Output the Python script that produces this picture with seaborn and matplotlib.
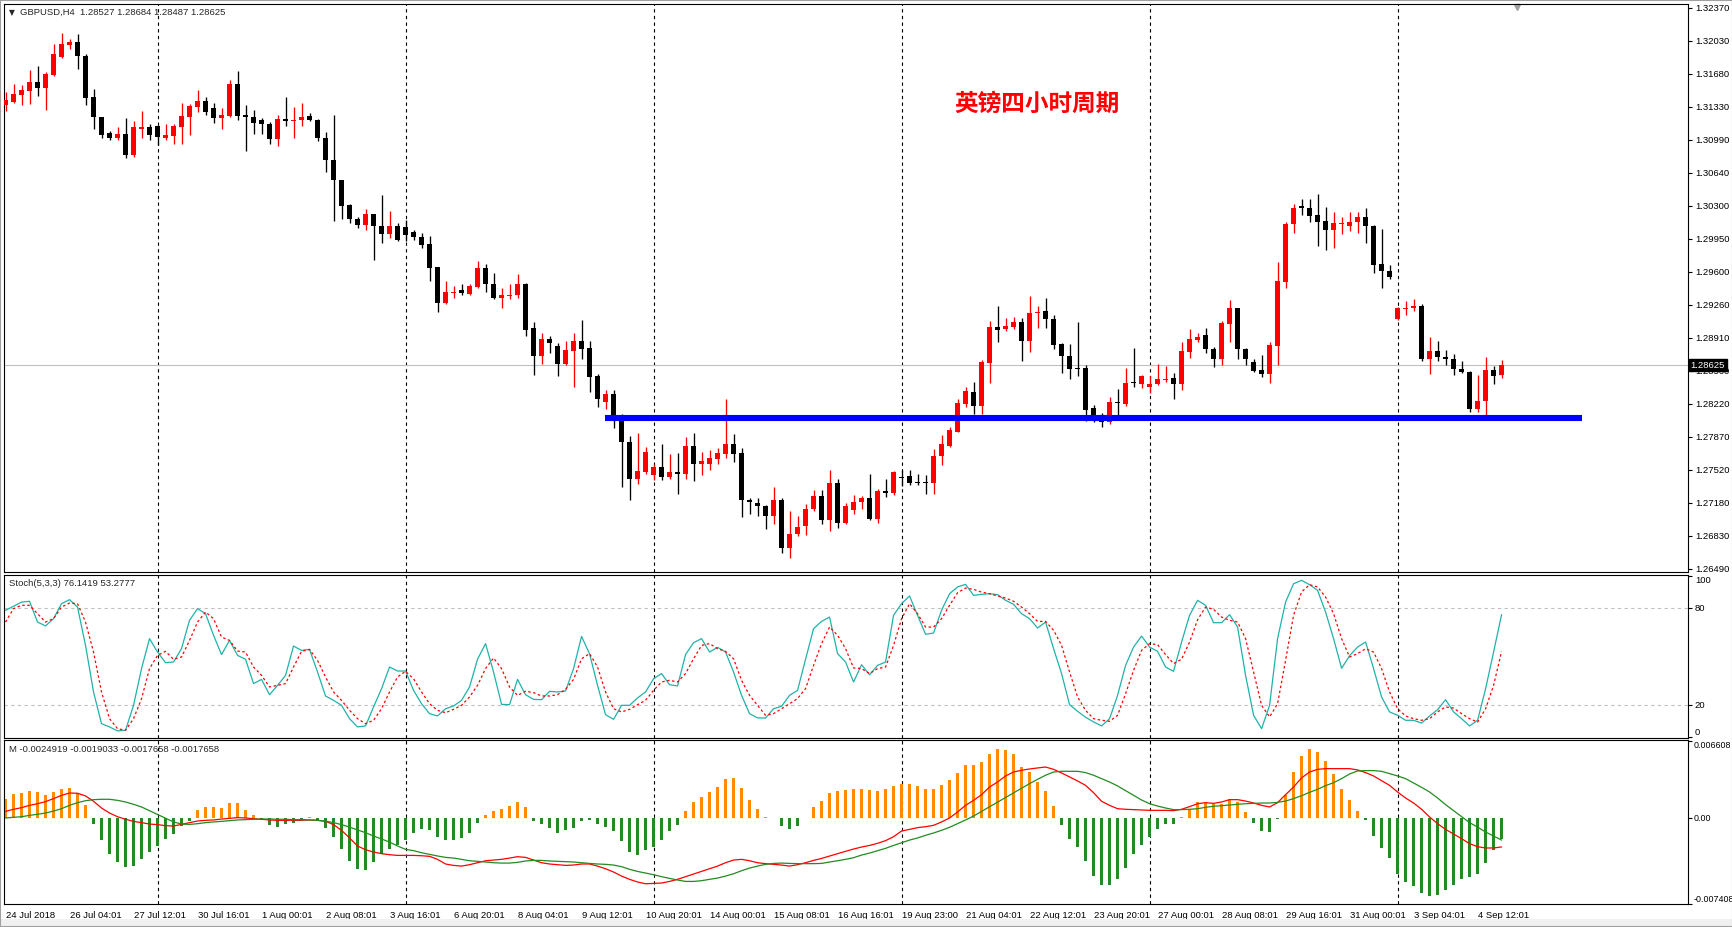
import numpy as np
import matplotlib
matplotlib.use("Agg")
import matplotlib.pyplot as plt
import matplotlib.transforms as mtransforms
from matplotlib.patches import Rectangle
import seaborn as sns

# ---- GBPUSD H4 candles ----
open_ = [1.3135, 1.3138, 1.3146, 1.3150, 1.3159, 1.3153, 1.3167, 1.3185, 1.3198, 1.3201,
         1.3186, 1.3143, 1.3123, 1.3106, 1.3101, 1.3105, 1.3083, 1.3110, 1.3112, 1.3113,
         1.3100, 1.3103, 1.3112, 1.3123, 1.3133, 1.3139, 1.3132, 1.3121, 1.3124, 1.3157,
         1.3125, 1.3123, 1.3119, 1.3115, 1.3099, 1.3120, 1.3118, 1.3119, 1.3124, 1.3119,
         1.3101, 1.3077, 1.3057, 1.3030, 1.3016, 1.3009, 1.3021, 1.3008, 1.3000, 1.3008,
         1.3007, 1.3002, 1.2997, 1.2989, 1.2965, 1.2928, 1.2938, 1.2941, 1.2937, 1.2944,
         1.2964, 1.2948, 1.2933, 1.2935, 1.2936, 1.2948, 1.2901, 1.2872, 1.2890, 1.2883,
         1.2864, 1.2877, 1.2888, 1.2881, 1.2851, 1.2824, 1.2832, 1.2809, 1.2782, 1.2743,
         1.2751, 1.2747, 1.2756, 1.2745, 1.2751, 1.2748, 1.2778, 1.2759, 1.2759, 1.2764,
         1.2769, 1.2780, 1.2770, 1.2721, 1.2718, 1.2715, 1.2704, 1.2721, 1.2671, 1.2686,
         1.2694, 1.2712, 1.2725, 1.2700, 1.2739, 1.2697, 1.2711, 1.2719, 1.2723, 1.2701,
         1.2731, 1.2729, 1.2745, 1.2746, 1.2740, 1.2740, 1.2739, 1.2767, 1.2778, 1.2793,
         1.2822, 1.2834, 1.2820, 1.2865, 1.2903, 1.2900, 1.2903, 1.2908, 1.2888, 1.2917,
         1.2919, 1.2911, 1.2885, 1.2872, 1.2860, 1.2860, 1.2818, 1.2809, 1.2803, 1.2824,
         1.2822, 1.2845, 1.2843, 1.2840, 1.2843, 1.2847, 1.2849, 1.2843, 1.2876, 1.2889,
         1.2894, 1.2879, 1.2869, 1.2906, 1.2922, 1.2879, 1.2866, 1.2857, 1.2853, 1.2883,
         1.2950, 1.3010, 1.3029, 1.3027, 1.3020, 1.3014, 1.3004, 1.3010, 1.3008, 1.3012,
         1.3018, 1.3008, 1.2968, 1.2961, 1.2911, 1.2921, 1.2922, 1.2925, 1.2869, 1.2877,
         1.2871, 1.2869, 1.2859, 1.2855, 1.2817, 1.2825, 1.2857, 1.28527]
high = [1.3149, 1.3157, 1.3156, 1.3172, 1.3176, 1.3170, 1.3199, 1.3211, 1.3204, 1.3209,
        1.3189, 1.3152, 1.3123, 1.3108, 1.3112, 1.3121, 1.3118, 1.3129, 1.3115, 1.3114,
        1.3115, 1.3115, 1.3137, 1.3136, 1.3151, 1.3143, 1.3137, 1.3132, 1.3161, 1.3171,
        1.3135, 1.3130, 1.3121, 1.3117, 1.3125, 1.3143, 1.3133, 1.3137, 1.3127, 1.3120,
        1.3107, 1.3125, 1.3057, 1.3031, 1.3018, 1.3026, 1.3021, 1.3041, 1.3024, 1.3011,
        1.3015, 1.3004, 1.3001, 1.2998, 1.2965, 1.2951, 1.2945, 1.2948, 1.2948, 1.2972,
        1.2969, 1.2959, 1.2943, 1.2948, 1.2958, 1.2949, 1.2908, 1.2896, 1.2893, 1.2886,
        1.2888, 1.2896, 1.2910, 1.2888, 1.2853, 1.2836, 1.2836, 1.2811, 1.2788, 1.2791,
        1.2777, 1.2759, 1.2780, 1.2769, 1.2771, 1.2787, 1.2791, 1.2772, 1.2774, 1.2776,
        1.2827, 1.2790, 1.2776, 1.2723, 1.2723, 1.2716, 1.2735, 1.2723, 1.2710, 1.2704,
        1.2717, 1.2732, 1.2732, 1.2753, 1.2743, 1.2718, 1.2726, 1.2725, 1.2748, 1.2733,
        1.2743, 1.2752, 1.2753, 1.2753, 1.2749, 1.2747, 1.2775, 1.2789, 1.2798, 1.2827,
        1.2840, 1.2845, 1.2868, 1.2909, 1.2924, 1.2912, 1.2913, 1.2912, 1.2935, 1.2925,
        1.2933, 1.2915, 1.2886, 1.2885, 1.2908, 1.2863, 1.2821, 1.2812, 1.2829, 1.2838,
        1.2860, 1.2880, 1.2852, 1.2851, 1.2864, 1.2862, 1.2854, 1.2887, 1.2900, 1.2896,
        1.2901, 1.2882, 1.2909, 1.2931, 1.2922, 1.2881, 1.2869, 1.2873, 1.2887, 1.2971,
        1.3013, 1.3031, 1.3037, 1.3037, 1.3042, 1.3028, 1.3023, 1.3018, 1.3023, 1.3023,
        1.3027, 1.3009, 1.3005, 1.2967, 1.2923, 1.2930, 1.2932, 1.2927, 1.2892, 1.2888,
        1.2878, 1.2874, 1.2867, 1.2856, 1.2852, 1.2871, 1.2862, 1.28684]
low = [1.3129, 1.3137, 1.3135, 1.3136, 1.3145, 1.3130, 1.3165, 1.3184, 1.3194, 1.3173,
       1.3135, 1.3110, 1.3100, 1.3098, 1.3098, 1.3080, 1.3081, 1.3100, 1.3098, 1.3093,
       1.3098, 1.3094, 1.3094, 1.3104, 1.3128, 1.3125, 1.3116, 1.3110, 1.3122, 1.3119,
       1.3087, 1.3105, 1.3105, 1.3094, 1.3092, 1.3113, 1.3101, 1.3113, 1.3118, 1.3097,
       1.3065, 1.3014, 1.3016, 1.3011, 1.3006, 1.3004, 1.2973, 1.2990, 1.2996, 1.2993,
       1.2993, 1.2994, 1.2985, 1.2951, 1.2918, 1.2927, 1.2933, 1.2936, 1.2936, 1.2943,
       1.2939, 1.2932, 1.2922, 1.2932, 1.2933, 1.2893, 1.2852, 1.2864, 1.2875, 1.2851,
       1.2863, 1.2840, 1.2869, 1.2834, 1.2819, 1.2817, 1.2797, 1.2735, 1.2721, 1.2738,
       1.2748, 1.2742, 1.2742, 1.2743, 1.2728, 1.2743, 1.2741, 1.2747, 1.2753, 1.2759,
       1.2765, 1.2761, 1.2703, 1.2707, 1.2704, 1.2691, 1.2696, 1.2666, 1.2660, 1.2684,
       1.2685, 1.2710, 1.2696, 1.2689, 1.2692, 1.2696, 1.2707, 1.2712, 1.2700, 1.2697,
       1.2724, 1.2726, 1.2736, 1.2737, 1.2737, 1.2728, 1.2728, 1.2758, 1.2777, 1.2792,
       1.2819, 1.2811, 1.2811, 1.2844, 1.2887, 1.2898, 1.2900, 1.2867, 1.2876, 1.2901,
       1.2901, 1.2879, 1.2854, 1.2848, 1.2851, 1.2804, 1.2803, 1.2798, 1.2801, 1.2806,
       1.2820, 1.2840, 1.2839, 1.2833, 1.2842, 1.2845, 1.2827, 1.2836, 1.2870, 1.2887,
       1.2875, 1.2861, 1.2863, 1.2887, 1.2869, 1.2863, 1.2855, 1.2850, 1.2844, 1.2863,
       1.2943, 1.3001, 1.3020, 1.3012, 1.2987, 1.2983, 1.2985, 1.3000, 1.3003, 1.3001,
       1.2991, 1.2959, 1.2943, 1.2953, 1.2910, 1.2915, 1.2919, 1.2867, 1.2853, 1.2867,
       1.2863, 1.2852, 1.2854, 1.2813, 1.2813, 1.2809, 1.2843, 1.28487]
close = [1.3140, 1.3147, 1.3151, 1.3159, 1.3153, 1.3168, 1.3188, 1.3199, 1.3201, 1.3186,
         1.3142, 1.3122, 1.3104, 1.3101, 1.3105, 1.3083, 1.3112, 1.3112, 1.3104, 1.3102,
         1.3104, 1.3113, 1.3124, 1.3134, 1.3139, 1.3128, 1.3121, 1.3125, 1.3157, 1.3124,
         1.3122, 1.3116, 1.3115, 1.3099, 1.3120, 1.3118, 1.3119, 1.3123, 1.3119, 1.3101,
         1.3077, 1.3056, 1.3029, 1.3016, 1.3009, 1.3021, 1.3008, 1.3000, 1.3008, 1.2994,
         1.2999, 1.2997, 1.2988, 1.2964, 1.2928, 1.2939, 1.2939, 1.2938, 1.2945, 1.2964,
         1.2948, 1.2933, 1.2936, 1.2936, 1.2948, 1.2899, 1.2872, 1.2890, 1.2886, 1.2864,
         1.2878, 1.2888, 1.2879, 1.2850, 1.2827, 1.2832, 1.2808, 1.2782, 1.2743, 1.2752,
         1.2772, 1.2756, 1.2745, 1.2751, 1.2748, 1.2778, 1.2759, 1.2762, 1.2765, 1.2770,
         1.2780, 1.2769, 1.2721, 1.2719, 1.2715, 1.2704, 1.2721, 1.2671, 1.2686, 1.2693,
         1.2712, 1.2725, 1.2700, 1.2739, 1.2697, 1.2715, 1.2719, 1.2723, 1.2701, 1.2731,
         1.2729, 1.2751, 1.2744, 1.2739, 1.2739, 1.2739, 1.2767, 1.2780, 1.2795, 1.2823,
         1.2835, 1.2820, 1.2866, 1.2903, 1.2899, 1.2904, 1.2908, 1.2888, 1.2917, 1.2918,
         1.2911, 1.2884, 1.2872, 1.2859, 1.2859, 1.2816, 1.2808, 1.2803, 1.2824, 1.2823,
         1.2844, 1.2844, 1.2851, 1.2843, 1.2848, 1.2848, 1.2843, 1.2877, 1.2890, 1.2892,
         1.2879, 1.2869, 1.2907, 1.2922, 1.2879, 1.2869, 1.2856, 1.2853, 1.2884, 1.2951,
         1.3010, 1.3027, 1.3027, 1.3019, 1.3013, 1.3004, 1.3011, 1.3011, 1.3013, 1.3018,
         1.3008, 1.2967, 1.2961, 1.2955, 1.2922, 1.2922, 1.2925, 1.2869, 1.2877, 1.2871,
         1.2869, 1.2858, 1.2855, 1.2817, 1.2825, 1.2857, 1.2851, 1.28625]

# ---- Stoch(5,3,3) ----
stoch_main = [78.8, 81.3, 83.9, 84.4, 71.5, 69.1, 73.6, 82.9, 85.4, 80.8,
              57.0, 28.1, 8.4, 6.4, 3.9, 4.3, 19.8, 42.6, 61.2, 52.9,
              46.3, 46.7, 55.0, 72.6, 79.8, 76.7, 63.3, 51.3, 60.1, 50.8,
              48.4, 33.3, 35.9, 26.4, 32.2, 38.4, 56.6, 53.9, 54.5, 40.5,
              25.6, 22.9, 19.8, 11.5, 6.4, 7.0, 18.8, 30.1, 43.6, 41.1,
              41.1, 29.1, 20.8, 14.6, 13.2, 17.7, 19.4, 22.9, 31.2, 48.4,
              58.1, 40.5, 20.4, 20.2, 35.9, 26.4, 23.5, 23.3, 28.5, 28.1,
              28.7, 42.6, 62.6, 51.8, 32.2, 14.0, 11.1, 19.8, 19.8, 24.4,
              28.1, 36.3, 39.5, 32.6, 31.8, 51.3, 58.7, 61.2, 52.9, 55.8,
              52.9, 40.5, 26.0, 14.6, 12.0, 11.9, 17.7, 19.2, 26.0, 29.1,
              48.4, 67.4, 71.9, 74.6, 51.9, 46.7, 34.3, 45.0, 38.8, 44.6,
              46.7, 75.7, 82.9, 87.7, 75.7, 63.9, 64.7, 78.8, 89.1, 93.3,
              94.9, 88.1, 88.7, 89.1, 88.5, 85.0, 82.5, 76.7, 73.6, 67.8,
              71.5, 55.0, 39.5, 20.2, 16.1, 12.4, 9.5, 7.0, 11.5, 26.0,
              44.6, 56.0, 62.8, 56.0, 53.3, 43.6, 40.9, 59.1, 75.7, 85.0,
              81.9, 71.1, 71.1, 76.1, 68.4, 38.4, 13.6, 5.3, 19.8, 61.2,
              83.9, 95.3, 97.4, 94.7, 91.2, 77.7, 61.2, 42.8, 50.6, 56.0,
              59.1, 42.6, 25.0, 15.7, 13.6, 10.5, 10.5, 8.8, 13.2, 17.1,
              23.3, 15.7, 11.5, 7.0, 10.5, 30.1, 52.9, 76.14]
stoch_signal = [71.5, 79.8, 81.9, 81.9, 76.7, 71.5, 73.6, 80.8, 83.3, 82.9,
                71.5, 52.9, 28.1, 11.5, 5.3, 4.3, 11.5, 23.9, 42.6, 50.8,
                53.3, 48.4, 49.8, 60.1, 71.5, 77.7, 73.6, 62.2, 60.1, 53.5,
                52.9, 43.6, 38.4, 31.2, 32.2, 33.3, 43.6, 53.3, 54.5, 47.7,
                37.4, 28.1, 22.9, 16.7, 11.5, 8.4, 10.5, 17.7, 28.1, 37.4,
                40.9, 36.3, 28.1, 20.8, 16.7, 15.2, 17.3, 19.8, 25.0, 32.2,
                42.6, 49.2, 42.6, 31.2, 26.0, 28.5, 27.7, 25.6, 25.6, 26.4,
                29.7, 35.9, 48.7, 51.9, 43.6, 28.1, 17.7, 15.7, 17.3, 20.2,
                22.9, 29.1, 34.3, 35.3, 34.3, 39.5, 48.7, 57.0, 58.1, 55.0,
                53.3, 48.7, 35.3, 26.0, 19.8, 13.6, 14.6, 17.7, 20.8, 24.0,
                30.2, 44.6, 58.1, 68.4, 63.3, 55.0, 43.0, 42.6, 39.5, 42.6,
                43.6, 57.0, 73.6, 82.9, 76.7, 68.4, 68.4, 73.6, 81.9, 89.7,
                92.6, 91.8, 90.1, 89.1, 87.7, 86.4, 84.4, 80.8, 76.7, 71.9,
                71.9, 66.4, 57.0, 40.5, 25.0, 16.7, 11.5, 10.5, 9.9, 13.6,
                27.0, 41.5, 53.9, 58.1, 57.5, 51.3, 45.7, 48.4, 59.1, 72.9,
                80.8, 79.4, 74.6, 72.6, 71.5, 61.2, 40.5, 19.8, 12.6, 20.8,
                47.7, 75.7, 90.2, 94.7, 93.3, 87.0, 76.7, 61.2, 49.8, 51.9,
                54.9, 52.9, 42.6, 28.1, 17.7, 13.2, 11.5, 10.5, 11.5, 15.7,
                18.8, 18.1, 14.6, 11.5, 9.4, 17.7, 32.2, 53.28]

# ---- MACD panel, values in units of 1e-4 ----
macd_hist_e4 = [16.7, 21.0, 21.5, 23.3, 22.4, 20.1, 22.4, 25.0, 25.8, 21.8,
                10.9, -4.9, -18.7, -30.7, -37.9, -42.2, -41.4, -35.0, -29.3, -24.1,
                -17.8, -13.5, -6.9, -2.9, 7.2, 9.5, 9.5, 8.6, 13.2, 13.2,
                6.6, 2.3, -2.0, -6.3, -7.8, -5.5, -4.0, -2.0, 0.9, -2.0,
                -8.6, -16.4, -27.0, -37.3, -43.7, -44.5, -37.9, -30.7, -27.0, -23.6,
                -19.2, -12.6, -9.8, -10.1, -16.4, -19.2, -19.2, -17.2, -12.6, -4.0,
                2.9, 6.3, 8.0, 10.1, 13.8, 9.5, -2.3, -4.9, -8.6, -12.6,
                -10.6, -8.6, -2.3, -2.0, -4.9, -7.8, -11.5, -20.1, -29.3, -31.6,
                -27.9, -25.0, -18.7, -11.5, -5.7, 5.7, 13.8, 18.1, 22.4, 26.7,
                33.3, 34.5, 25.8, 15.2, 7.5, 0.9, 0.3, -6.9, -9.2, -6.9,
                0.3, 9.5, 14.4, 21.8, 23.3, 24.4, 24.7, 24.7, 23.8, 23.3,
                24.7, 27.6, 29.6, 29.6, 27.6, 24.7, 25.3, 28.7, 32.5, 38.8,
                45.4, 46.0, 48.2, 55.4, 59.2, 58.3, 54.9, 43.9, 39.6, 31.0,
                23.3, 10.3, -6.3, -17.8, -25.0, -37.3, -50.0, -57.4, -57.4, -52.8,
                -42.8, -30.7, -23.0, -16.4, -9.2, -5.5, -4.9, 0.6, 7.5, 13.8,
                13.8, 11.8, 11.8, 16.7, 13.8, 5.2, -4.0, -11.5, -12.1, -0.6,
                20.1, 39.6, 53.4, 59.2, 56.9, 49.1, 38.2, 25.3, 15.2, 5.7,
                -2.0, -15.5, -25.8, -34.5, -48.0, -55.1, -58.6, -64.3, -67.2, -66.1,
                -62.3, -58.0, -52.3, -50.8, -48.0, -38.5, -27.9, -17.658]
macd_red_e4 = [5.7, 7.5, 8.9, 10.9, 12.3, 14.1, 16.7, 19.5, 21.5, 21.3,
               19.0, 14.4, 8.6, 4.3, 1.1, -1.1, -2.9, -4.0, -5.2, -5.7,
               -6.6, -6.9, -5.5, -4.0, -2.6, -2.0, -1.7, -0.9, -0.3, 0.3,
               0.0, -0.6, -1.1, -1.7, -2.0, -2.0, -2.0, -2.0, -1.7, -2.0,
               -2.9, -5.7, -10.6, -17.2, -24.1, -27.3, -29.3, -30.7, -31.6, -32.2,
               -32.2, -32.2, -32.5, -33.0, -35.6, -39.6, -40.8, -41.4, -40.2, -38.5,
               -36.8, -36.2, -35.6, -34.5, -33.3, -33.9, -36.2, -38.5, -39.6, -40.2,
               -40.8, -40.5, -39.6, -39.6, -41.4, -43.7, -46.5, -50.0, -52.8, -55.1,
               -56.6, -56.3, -56.0, -54.6, -52.8, -50.5, -48.2, -46.0, -43.7, -41.4,
               -38.5, -36.2, -35.6, -36.8, -38.5, -39.3, -39.9, -40.5, -41.4, -40.2,
               -38.5, -36.5, -34.8, -32.7, -30.7, -28.7, -26.7, -25.0, -23.6, -21.8,
               -19.5, -16.1, -11.2, -9.8, -8.3, -7.5, -6.3, -3.4, 0.0, 5.2,
               10.9, 15.2, 20.1, 26.7, 31.0, 36.2, 39.6, 41.1, 42.2, 43.1,
               43.9, 41.9, 38.8, 35.3, 31.9, 28.1, 21.8, 14.4, 10.9, 8.0,
               7.5, 7.2, 6.9, 6.6, 6.6, 6.6, 6.3, 7.5, 9.8, 12.3,
               13.2, 12.6, 13.8, 15.8, 15.8, 14.6, 12.9, 10.9, 9.5, 13.2,
               20.1, 26.7, 34.5, 39.6, 41.9, 42.5, 42.5, 42.5, 42.5, 41.4,
               39.1, 36.2, 32.2, 28.1, 22.4, 17.2, 12.9, 7.5, 0.9, -4.9,
               -9.8, -13.8, -17.8, -22.1, -24.7, -25.8, -25.8, -24.919]
macd_green_e4 = [0.0, 0.6, 1.1, 2.3, 3.2, 4.3, 6.0, 8.0, 10.9, 13.2,
                 14.9, 15.8, 16.1, 16.1, 15.2, 13.8, 11.8, 9.5, 6.3, 3.2,
                 0.0, -3.4, -5.2, -5.5, -4.9, -4.0, -3.4, -2.9, -2.3, -1.7,
                 -1.4, -1.1, -0.9, -0.9, -1.1, -1.1, -1.4, -1.4, -1.7, -2.0,
                 -2.6, -4.0, -5.7, -7.8, -10.3, -12.6, -15.5, -18.1, -20.7, -24.1,
                 -27.0, -28.1, -29.9, -31.3, -32.7, -33.9, -34.5, -35.6, -36.8, -37.3,
                 -37.9, -38.5, -38.8, -38.8, -38.2, -37.0, -36.5, -36.5, -37.0, -37.3,
                 -37.6, -37.9, -38.5, -39.1, -39.6, -39.9, -40.5, -41.9, -44.2, -46.0,
                 -47.4, -48.8, -50.5, -52.0, -53.4, -54.6, -54.6, -54.0, -52.8, -51.7,
                 -50.0, -48.0, -45.4, -43.1, -41.4, -39.9, -39.1, -38.8, -39.1, -39.3,
                 -39.3, -39.3, -39.1, -37.9, -36.8, -35.6, -34.2, -31.9, -30.2, -28.1,
                 -26.1, -23.6, -21.3, -19.0, -17.2, -14.9, -12.9, -10.6, -8.0, -4.9,
                 -1.7, 1.7, 5.7, 9.8, 13.8, 17.8, 21.8, 25.8, 29.6, 33.3,
                 36.8, 39.6, 40.2, 40.2, 40.2, 39.1, 36.8, 33.9, 31.0, 27.6,
                 23.6, 19.5, 15.5, 12.3, 10.3, 8.6, 7.2, 7.2, 7.5, 8.0,
                 9.2, 10.1, 10.6, 11.2, 11.8, 12.3, 12.6, 12.9, 12.9, 13.5,
                 14.6, 16.7, 19.2, 22.1, 24.7, 27.9, 30.4, 33.9, 37.9, 40.5,
                 40.8, 40.8, 40.2, 38.2, 36.2, 33.9, 30.2, 26.4, 22.4, 17.2,
                 11.5, 6.3, 1.1, -4.0, -7.8, -12.1, -15.5, -19.033]

price_labels = ['1.26490', '1.26830', '1.27180', '1.27520', '1.27870', '1.28220',
                '1.28560', '1.28910', '1.29260', '1.29600', '1.29950', '1.30300',
                '1.30640', '1.30990', '1.31330', '1.31680', '1.32030', '1.32370']
date_labels = ['24 Jul 2018', '26 Jul 04:01', '27 Jul 12:01', '30 Jul 16:01',
               '1 Aug 00:01', '2 Aug 08:01', '3 Aug 16:01', '6 Aug 20:01',
               '8 Aug 04:01', '9 Aug 12:01', '10 Aug 20:01', '14 Aug 00:01',
               '15 Aug 08:01', '16 Aug 16:01', '19 Aug 23:00', '21 Aug 04:01',
               '22 Aug 12:01', '23 Aug 20:01', '27 Aug 00:01', '28 Aug 08:01',
               '29 Aug 16:01', '31 Aug 00:01', '3 Sep 04:01', '4 Sep 12:01']
week_breaks = [19, 50, 81, 112, 143, 174]   # bar index of each week separator
support_level = 1.2807
support_from, support_to = 75, 197
last_price = 1.28625

# ---- figure ----
W, H = 1733, 927
sns.set_style("white")
plt.rcParams['font.family'] = ['Liberation Sans', 'DejaVu Sans']
plt.rcParams['axes.linewidth'] = 0.8

fig = plt.figure(figsize=(W / 100, H / 100), dpi=100)
fig.patch.set_facecolor('white')


def rect(top, bottom, left=4, right=1688):
    return [left / W, 1 - bottom / H, (right - left) / W, (bottom - top) / H]


ax = fig.add_axes(rect(4.4, 571.6))
ax_st = fig.add_axes(rect(574.7, 737.7))
ax_md = fig.add_axes(rect(740.3, 904.3))

x = np.arange(len(close))
xlim = (-0.19, 210.3)
fs = 6.8

for a in (ax, ax_st, ax_md):
    a.set_xlim(*xlim)
    a.set_facecolor('white')
    for sp in a.spines.values():
        sp.set_color('black')
        sp.set_linewidth(0.8)
    for b in week_breaks:
        a.axvline(b, color='black', lw=0.8, ls=(0, (3, 3)), zorder=0.6)
    a.yaxis.tick_right()
    a.tick_params(axis='y', direction='out', length=3, width=0.8, pad=2,
                  labelsize=fs, colors='black')
    a.set_xlabel('')
    a.set_ylabel('')

# ---- candles ----
o = np.array(open_)
c = np.array(close)
hi = np.array(high)
lo = np.array(low)
col = np.where(c >= o, '#FF0000', '#000000')
ax.vlines(x, lo, hi, colors=col, lw=0.95, zorder=2)
body_lo = np.minimum(o, c)
body_h = np.maximum(np.abs(c - o), 0.00009)
ax.bar(x, body_h, bottom=body_lo, width=0.62, color=col, linewidth=0, zorder=3)

ax.axhline(last_price, color='#C0C0C0', lw=0.8, zorder=0.7)
ax.hlines(support_level, support_from - 0.1, support_to, color='#0000FF', lw=4.4, zorder=4)

ax.set_ylim(1.264627, 1.324046)
ax.set_yticks(np.linspace(1.26490, 1.32370, len(price_labels)))
ax.set_yticklabels(price_labels)
ax.tick_params(axis='x', bottom=False, labelbottom=False)

trans = mtransforms.blended_transform_factory(ax.transAxes, ax.transData)
ax.text(1.0016, last_price, f'{last_price:.5f}', transform=trans, color='white',
        fontsize=fs, va='center', ha='left', clip_on=False, zorder=10,
        bbox=dict(boxstyle='square,pad=0.18', fc='black', ec='black'))
ax.plot([0.8986], [0.996], marker='v', color='#A0A0A0', ms=4.5,
        transform=ax.transAxes, clip_on=False)

ax.text(0.6134, 0.8240, '英镑四小时周期', transform=ax.transAxes, color='#FF0000',
        fontsize=17, fontweight='bold', ha='center', va='center',
        family=['Noto Sans CJK SC', 'DejaVu Sans'])

# ---- stochastic ----
sns.lineplot(x=x, y=np.array(stoch_main), ax=ax_st, color='#20B2AA', lw=0.9,
             estimator=None, sort=False)
sns.lineplot(x=x, y=np.array(stoch_signal), ax=ax_st, color='#FF0000', lw=0.9,
             linestyle=(0, (2, 2)), estimator=None, sort=False)
for lvl in (80, 20):
    ax_st.axhline(lvl, color='#C0C0C0', lw=0.8, ls=(0, (3, 3)), zorder=0.5)
ax_st.set_ylim(-0.3, 100.9)
ax_st.set_yticks([0, 20, 80, 100])
ax_st.set_yticklabels(['0', '20', '80', '100'])
for lbl, va in zip(ax_st.get_yticklabels(), ['bottom', 'center', 'center', 'top']):
    lbl.set_va(va)
ax_st.tick_params(axis='x', bottom=False, labelbottom=False)
ax_st.set_xlabel('')
ax_st.set_ylabel('')

# ---- MACD ----
hist = np.array(macd_hist_e4) * 1e-4
pos = hist >= 0
ax_md.bar(x[pos], hist[pos], width=0.45, color='#FF8C00', linewidth=0, zorder=2)
ax_md.bar(x[~pos], hist[~pos], width=0.45, color='#228B22', linewidth=0, zorder=2)
sns.lineplot(x=x, y=np.array(macd_red_e4) * 1e-4, ax=ax_md, color='#FF0000', lw=0.9,
             estimator=None, sort=False, zorder=3)
sns.lineplot(x=x, y=np.array(macd_green_e4) * 1e-4, ax=ax_md, color='#228B22', lw=0.9,
             estimator=None, sort=False, zorder=3)
ax_md.set_ylim(-0.00743, 0.00669)
ax_md.set_yticks([-0.007408, 0.0, 0.006608])
ax_md.set_yticklabels(['-0.007408', '0.00', '0.006608'])
ax_md.tick_params(axis='y', pad=1, labelsize=6.4)
for lbl, va in zip(ax_md.get_yticklabels(), ['bottom', 'center', 'top']):
    lbl.set_va(va)
ax_md.set_xticks(np.arange(0, 8 * len(date_labels), 8))
ax_md.set_xticklabels(date_labels)
ax_md.tick_params(axis='x', direction='out', length=3, width=0.8, pad=2,
                  labelsize=fs, colors='black')
for lbl in ax_md.get_xticklabels():
    lbl.set_ha('left')
ax_md.set_xlabel('')
ax_md.set_ylabel('')

# ---- header texts ----
fig.text(8.5 / W, 1 - 12.7 / H, '▼', fontsize=5.5, va='center', ha='left',
         family=['DejaVu Sans'])
fig.text(20 / W, 1 - 12.7 / H, 'GBPUSD,H4  1.28527 1.28684 1.28487 1.28625',
         fontsize=fs, va='center', ha='left')
fig.text(9 / W, 1 - 583.3 / H, 'Stoch(5,3,3) 76.1419 53.2777',
         fontsize=fs, va='center', ha='left')
fig.text(9 / W, 1 - 750 / H, 'M -0.0024919 -0.0019033 -0.0017658 -0.0017658',
         fontsize=fs, va='center', ha='left')

# window frame and bottom strip
fig.patches.append(Rectangle((0, 0), 1, 8 / H, transform=fig.transFigure,
                             facecolor='#F0F0F0', edgecolor='none', zorder=0))
fig.patches.append(Rectangle((0, 0), 1, 1, transform=fig.transFigure, fill=False,
                             edgecolor='#A0A0A0', lw=1.5, zorder=0))

fig.savefig('out.png', dpi=100, facecolor=fig.get_facecolor())
